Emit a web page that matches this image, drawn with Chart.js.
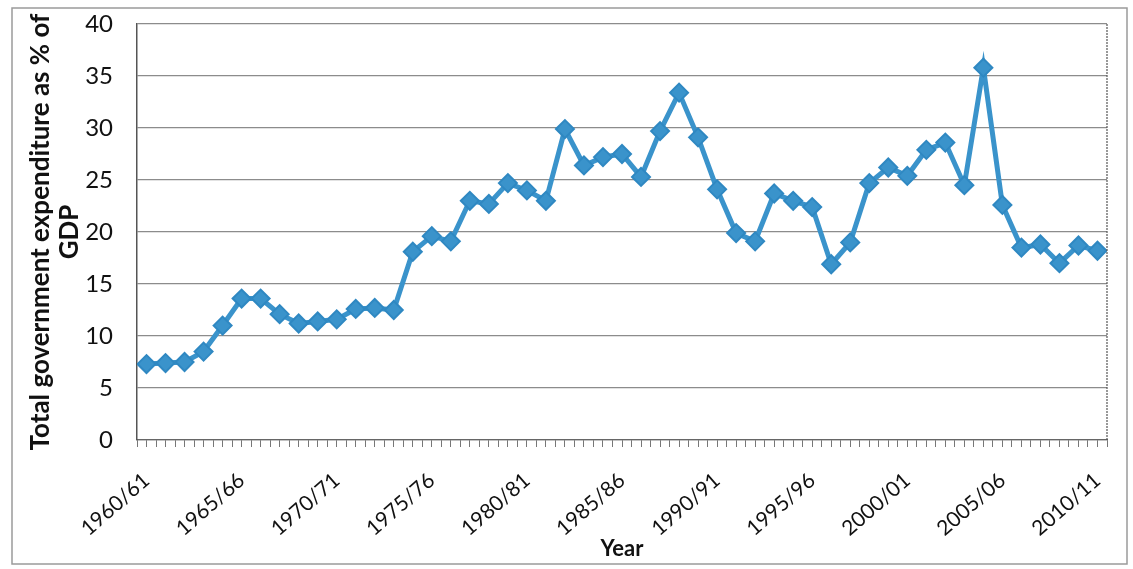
<!DOCTYPE html>
<html>
<head>
<meta charset="utf-8">
<script src="https://cdn.jsdelivr.net/npm/chart.js@4.4.1/dist/chart.umd.min.js"></script>
<style>
  html, body { margin: 0; padding: 0; background: #ffffff; }
  #wrap { width: 1133px; height: 569px; position: relative; }
  canvas { display: block; }
</style>
</head>
<body>
<div id="wrap"><canvas id="c" width="1133" height="569"></canvas></div>
<script>
// ---- Data ----
const categories = [
  '1960/61','1961/62','1962/63','1963/64','1964/65','1965/66','1966/67','1967/68','1968/69','1969/70',
  '1970/71','1971/72','1972/73','1973/74','1974/75','1975/76','1976/77','1977/78','1978/79','1979/80',
  '1980/81','1981/82','1982/83','1983/84','1984/85','1985/86','1986/87','1987/88','1988/89','1989/90',
  '1990/91','1991/92','1992/93','1993/94','1994/95','1995/96','1996/97','1997/98','1998/99','1999/00',
  '2000/01','2001/02','2002/03','2003/04','2004/05','2005/06','2006/07','2007/08','2008/09','2009/10',
  '2010/11'
];
const expenditurePctGDP = [
  7.3, 7.4, 7.5, 8.5, 11.0, 13.6, 13.6, 12.1, 11.2, 11.4,
  11.6, 12.6, 12.7, 12.5, 18.1, 19.6, 19.1, 23.0, 22.7, 24.7,
  24.0, 23.0, 29.9, 26.4, 27.2, 27.5, 25.3, 29.7, 33.4, 29.1,
  24.1, 19.9, 19.1, 23.7, 23.0, 22.4, 16.9, 19.0, 24.7, 26.2,
  25.4, 27.9, 28.6, 24.5, 35.8, 22.6, 18.5, 18.8, 17.0, 18.7,
  18.2
];
const labelledCategories = ['1960/61','1965/66','1970/71','1975/76','1980/81','1985/86','1990/91','1995/96','2000/01','2005/06','2010/11'];
const yTicks = [0, 5, 10, 15, 20, 25, 30, 35, 40];

const points = expenditurePctGDP.map((v, i) => ({ x: i, y: v }));

const frame = {
  id: 'frame',
  beforeDraw(chart) {
    const ctx = chart.ctx;
    ctx.save();
    ctx.fillStyle = '#ffffff';
    ctx.fillRect(0, 0, chart.width, chart.height);
    ctx.strokeStyle = '#9a9a9a';
    ctx.lineWidth = 1.5;
    ctx.strokeRect(12, 8, 1115, 556);
    ctx.restore();
  },
  afterDatasetsDraw(chart) {
    const ctx = chart.ctx, a = chart.chartArea;
    ctx.save();
    ctx.strokeStyle = '#555555';
    ctx.lineWidth = 1.2;
    ctx.setLineDash([2, 1]);
    ctx.beginPath();
    ctx.moveTo(a.right, a.top);
    ctx.lineTo(a.right, a.bottom);
    ctx.stroke();
    ctx.restore();
  }
};

new Chart(document.getElementById('c'), {
  type: 'line',
  data: {
    datasets: [{
      data: points,
      borderColor: '#3A93CB',
      borderWidth: 5,
      backgroundColor: '#3A93CB',
      pointStyle: 'rectRot',
      pointRadius: 9,
      pointBorderWidth: 2,
      pointBorderColor: '#2F88C2',
      pointBackgroundColor: '#3A93CB',
      tension: 0
    }]
  },
  options: {
    responsive: false,
    animation: false,
    devicePixelRatio: 1,
    layout: { padding: { top: 24, right: 26, left: 0, bottom: 0 } },
    plugins: { legend: { display: false }, tooltip: { enabled: false } },
    scales: {
      x: {
        type: 'linear',
        min: -0.5,
        max: categories.length - 0.5,
        afterFit(scale) { scale.height = 129; scale.paddingRight = 0; scale.paddingLeft = 0; },
        border: { display: true, color: '#666666', width: 1.2 },
        grid: { drawOnChartArea: false, drawTicks: true, tickLength: 7, color: '#777777', lineWidth: 1 },
        ticks: {
          stepSize: 0.5,
          autoSkip: false,
          maxRotation: 41,
          minRotation: 41,
          padding: 21,
          color: '#111111',
          font: { family: 'Lato', size: 21 },
          callback(value) {
            if (Number.isInteger(value)) {
              const lab = categories[value];
              if (labelledCategories.includes(lab)) return lab;
            }
            return '';
          }
        },
        title: {
          display: true,
          text: 'Year',
          color: '#111111',
          font: { family: 'Lato', size: 22, weight: 'bold' },
          padding: { top: 0, bottom: 7 }
        }
      },
      y: {
        min: 0,
        max: 40,
        afterFit(scale) { scale.width = 137; },
        afterBuildTicks(scale) { scale.ticks = yTicks.map(v => ({ value: v })); },
        border: { display: true, color: '#555555', width: 1.5 },
        grid: { color: '#8c8c8c', lineWidth: 1.3, drawTicks: true, tickLength: 22, tickColor: 'rgba(0,0,0,0)' },
        ticks: {
          padding: 2,
          color: '#111111',
          font: { family: 'Lato', size: 24 }
        },
        title: {
          display: true,
          text: ['Total government expenditure as % of', 'GDP'],
          color: '#111111',
          font: { family: 'Lato', size: 26, weight: 'bold', lineHeight: 1.08 },
          padding: { top: 27, bottom: 0 }
        }
      }
    }
  },
  plugins: [frame]
});
</script>
</body>
</html>
